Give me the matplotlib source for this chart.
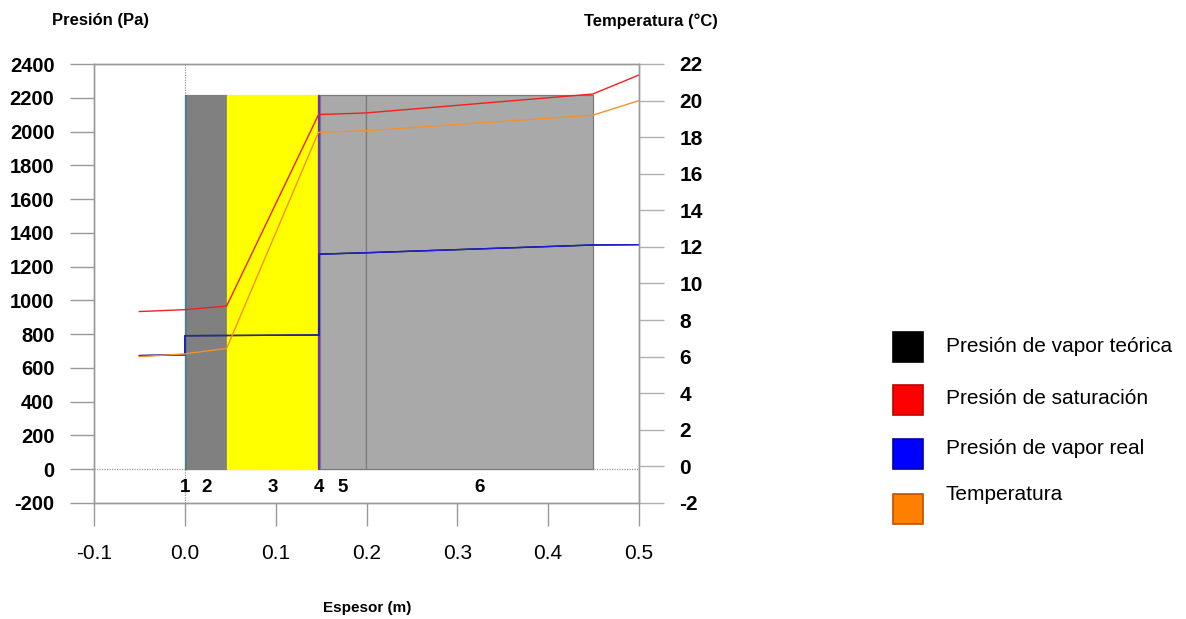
import matplotlib
matplotlib.use("Agg")
import matplotlib.pyplot as plt
from matplotlib.patches import Rectangle

plt.rcParams['font.family'] = ['Liberation Sans', 'DejaVu Sans']

# capas: (inicio, fin, color)
layer_x0 = [0.0, 0.002, 0.046, 0.147, 0.149, 0.199]
layer_x1 = [0.002, 0.046, 0.147, 0.149, 0.199, 0.449]
layer_colors = ['#4F7F80', '#808080', '#FFFF00', '#6A2AC8', '#A9A9A9', '#A9A9A9']
layer_names = ['1', '2', '3', '4', '5', '6']
layer_top = 2215

# posiciones (m)
x_pts = [-0.05, 0.0, 0.002, 0.046, 0.147, 0.149, 0.199, 0.449, 0.5]
temp = [6.0, 6.15, 6.17, 6.45, 18.25, 18.27, 18.35, 19.2, 20.0]
p_sat = [934, 945, 946, 966, 2098, 2101, 2110, 2222, 2335]

x_vap = [-0.05, 0.0, 0.0, 0.046, 0.147, 0.148, 0.148, 0.149, 0.199, 0.449, 0.5]
p_real = [673, 678, 791, 792, 795, 795, 1273, 1274, 1282, 1328, 1330]
p_teor = [673, 678, 791, 792, 795, 795, 1273, 1274, 1282, 1328, 1330]

p_ticks = list(range(-200, 2401, 200))
t_ticks = list(range(-2, 23, 2))
x_ticks = [-0.1, 0.0, 0.1, 0.2, 0.3, 0.4, 0.5]

legend_labels = ['Presión de vapor teórica', 'Presión de saturación',
                 'Presión de vapor real', 'Temperatura']
legend_colors = ['#000000', '#FF0000', '#0000FF', '#FF8000']
legend_edges = ['#000000', '#C00000', '#0000AA', '#C05000']

W, H = 1186, 619
fig = plt.figure(figsize=(W / 100, H / 100), dpi=100)
ax = fig.add_axes([94 / W, 1 - 503 / H, (639 - 94) / W, (503 - 64) / H])
ax2 = ax.twinx()

grid_c = '#999999'

for x0, x1, c in zip(layer_x0, layer_x1, layer_colors):
    ax.add_patch(Rectangle((x0, 0), x1 - x0, layer_top, facecolor=c,
                           edgecolor='#7a7a7a' if c == '#A9A9A9' else c, lw=0.9, zorder=1))

for x0, x1, name in zip(layer_x0, layer_x1, layer_names):
    xc = x0 if name in ('1',) else (x0 + x1) / 2
    ax.text(xc, -107, name, ha='center', va='center', fontsize=13.5, fontweight='bold')

ax.axhline(0, color=grid_c, lw=0.9, ls=(0, (1, 1)), zorder=0.5)
ax.axvline(0, color=grid_c, lw=0.9, ls=(0, (1, 1)), zorder=0.5)

ax.plot(x_vap, p_teor, color='#000000', lw=1.0, zorder=3)
ax.plot(x_pts, p_sat, color='#F02020', lw=1.0, zorder=4)
ax.plot(x_vap, p_real, color='#2020E0', lw=1.0, zorder=5)
ax2.plot(x_pts, temp, color='#F5902A', lw=1.0, zorder=6)

ax.set_xlim(-0.1, 0.5)
ax.set_ylim(-200, 2400)
ax2.set_ylim(-2, 22)

ax.set_xticks(x_ticks)
ax.set_xticklabels([f'{v:.1f}' for v in x_ticks])
ax.set_yticks(p_ticks)
ax.set_yticklabels([str(v) for v in p_ticks], fontweight='bold')
ax2.set_yticks(t_ticks)
ax2.set_yticklabels([str(v) for v in t_ticks], fontweight='bold')

ax.tick_params(axis='y', direction='out', length=17.5, width=1, color=grid_c,
               pad=11, labelsize=14.5)
ax.tick_params(axis='x', direction='out', length=16.5, width=1, color=grid_c,
               pad=13, labelsize=15)
ax2.tick_params(axis='y', direction='out', length=18, width=1, color='#b0b0b0',
                pad=11, labelsize=15)

for a in (ax, ax2):
    for s in a.spines.values():
        s.set_color(grid_c)
        s.set_linewidth(1)

fig.text(100 / W, 1 - 20 / H, 'Presión (Pa)', ha='center', va='center',
         fontsize=12, fontweight='bold')
fig.text(651 / W, 1 - 21 / H, 'Temperatura (°C)', ha='center', va='center',
         fontsize=12, fontweight='bold')
fig.text(367 / W, 1 - 608 / H, 'Espesor (m)', ha='center', va='center',
         fontsize=11, fontweight='bold')

sq_y = [347, 400, 454, 509]
txt_y = [346, 398, 449, 494]
for lab, fc, ec, sy, ty in zip(legend_labels, legend_colors, legend_edges, sq_y, txt_y):
    fig.patches.append(Rectangle((893 / W, 1 - (sy + 15) / H), 30 / W, 30 / H,
                                 facecolor=fc, edgecolor=ec, lw=1.2,
                                 transform=fig.transFigure, figure=fig))
    fig.text(946 / W, 1 - ty / H, lab, ha='left', va='center', fontsize=15)

fig.savefig('out.png', dpi=100)
